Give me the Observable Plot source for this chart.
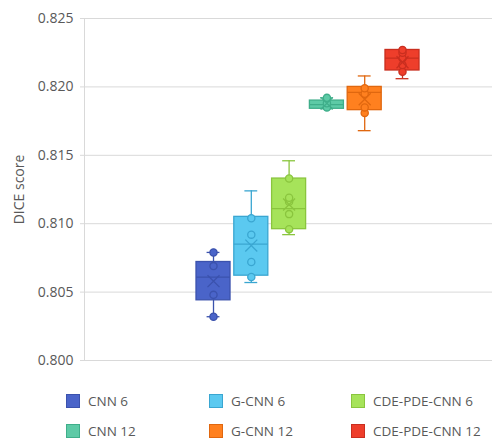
<!DOCTYPE html>
<html>
<head>
<meta charset="utf-8">
<script src="https://cdn.jsdelivr.net/npm/d3@7"></script>
<script src="https://cdn.jsdelivr.net/npm/@observablehq/plot@0.6"></script>
<style>
  body { margin: 0; background: #fff; }
  #wrap { position: relative; width: 492px; height: 439px; font-family: "Open Sans", sans-serif; }
  .leg { position: absolute; display: flex; align-items: center; font-size: 13.5px; color: #595959; white-space: nowrap; }
  .sw { width: 12px; height: 12px; border: 1px solid; margin-right: 8px; box-sizing: content-box; }
</style>
</head>
<body>
<div id="wrap"></div>
<script>
const series = ["CNN 6", "G-CNN 6", "CDE-PDE-CNN 6", "CNN 12", "G-CNN 12", "CDE-PDE-CNN 12"];
const fills   = ["#4a64c9", "#5bc9f0", "#a6e35a", "#5dcaa6", "#ff801f", "#ee3e2b"];
const strokes = ["#3b52ad", "#3aa6d1", "#8ac53e", "#3fae8a", "#e0670f", "#c92e1f"];
const lo   = [0.8032, 0.8057, 0.8092, 0.8184, 0.8168, 0.8206];
const q1   = [0.8044, 0.8062, 0.8096, 0.8184, 0.8183, 0.8212];
const med  = [0.8061, 0.8085, 0.8111, 0.8187, 0.8196, 0.8221];
const q3   = [0.8072, 0.8105, 0.8133, 0.8190, 0.8200, 0.8227];
const hi   = [0.8079, 0.8124, 0.8146, 0.8192, 0.8208, 0.8227];
const mean = [0.8058, 0.8084, 0.8114, 0.8188, 0.8191, 0.8218];
const points = [
  [0.8032, 0.8048, 0.8069, 0.8079],
  [0.8061, 0.8072, 0.8092, 0.8104],
  [0.8096, 0.8107, 0.8116, 0.8119, 0.8133],
  [0.8185, 0.8188, 0.8192],
  [0.8181, 0.8185, 0.8195, 0.8199],
  [0.8211, 0.8216, 0.8221, 0.8225, 0.8227]
];
const yTicks = [0.800, 0.805, 0.810, 0.815, 0.820, 0.825];

const boxes = series.map((s, i) => ({s, i, lo: lo[i], q1: q1[i], med: med[i], q3: q3[i], hi: hi[i], mean: mean[i], fill: fills[i], stroke: strokes[i]}));
const pts = points.flatMap((arr, i) => arr.map(v => ({i, v, fill: fills[i], stroke: strokes[i]})));

const xDomain = [-3.413, 7.381];
const hw = 0.45, cw = 0.17;

const chart = Plot.plot({
  width: 492, height: 370,
  marginLeft: 84, marginRight: 0, marginTop: 18, marginBottom: 10,
  style: {fontFamily: "Open Sans", fontSize: "14px", color: "#595959", background: "white"},
  x: {type: "linear", domain: xDomain, axis: null},
  y: {domain: [0.8, 0.825]},
  marks: [
    Plot.gridY(yTicks, {stroke: "#d9d9d9", strokeOpacity: 1}),
    Plot.ruleX([xDomain[0]], {stroke: "#d9d9d9"}),
    Plot.axisY(yTicks, {tickSize: 4, tickPadding: 7, stroke: "#d9d9d9", fontSize: 14, tickFormat: d3.format(".3f"),
      label: "DICE score", labelAnchor: "center", labelArrow: "none", labelOffset: 70}),
    Plot.ruleX(boxes, {x: "i", y1: "lo", y2: "hi", stroke: "stroke", strokeWidth: 1.3}),
    Plot.ruleY(boxes, {y: "lo", x1: d => d.i - cw, x2: d => d.i + cw, stroke: "stroke", strokeWidth: 1.3}),
    Plot.ruleY(boxes, {y: "hi", x1: d => d.i - cw, x2: d => d.i + cw, stroke: "stroke", strokeWidth: 1.3}),
    Plot.rect(boxes, {x1: d => d.i - hw, x2: d => d.i + hw, y1: "q1", y2: "q3", fill: "fill", stroke: "stroke", strokeWidth: 1.3}),
    Plot.ruleY(boxes, {y: "med", x1: d => d.i - hw, x2: d => d.i + hw, stroke: "stroke", strokeWidth: 1.3}),
    Plot.dot(pts, {x: "i", y: "v", r: 3.6, fill: "fill", stroke: "stroke", strokeWidth: 1.3}),
    Plot.dot(boxes, {x: "i", y: "mean", symbol: "times", r: 5.5, stroke: "stroke", strokeWidth: 1.3})
  ]
});

const wrap = document.getElementById("wrap");
wrap.appendChild(chart);

const legPos = [[66, 401], [209, 401], [351, 401], [66, 431], [209, 431], [351, 431]];
series.forEach((s, i) => {
  const d = document.createElement("div");
  d.className = "leg";
  d.style.left = legPos[i][0] + "px";
  d.style.top = (legPos[i][1] - 10) + "px";
  d.style.height = "20px";
  const sw = document.createElement("span");
  sw.className = "sw";
  sw.style.background = fills[i];
  sw.style.borderColor = strokes[i];
  const t = document.createElement("span");
  t.textContent = s;
  d.appendChild(sw); d.appendChild(t);
  wrap.appendChild(d);
});
</script>
</body>
</html>
